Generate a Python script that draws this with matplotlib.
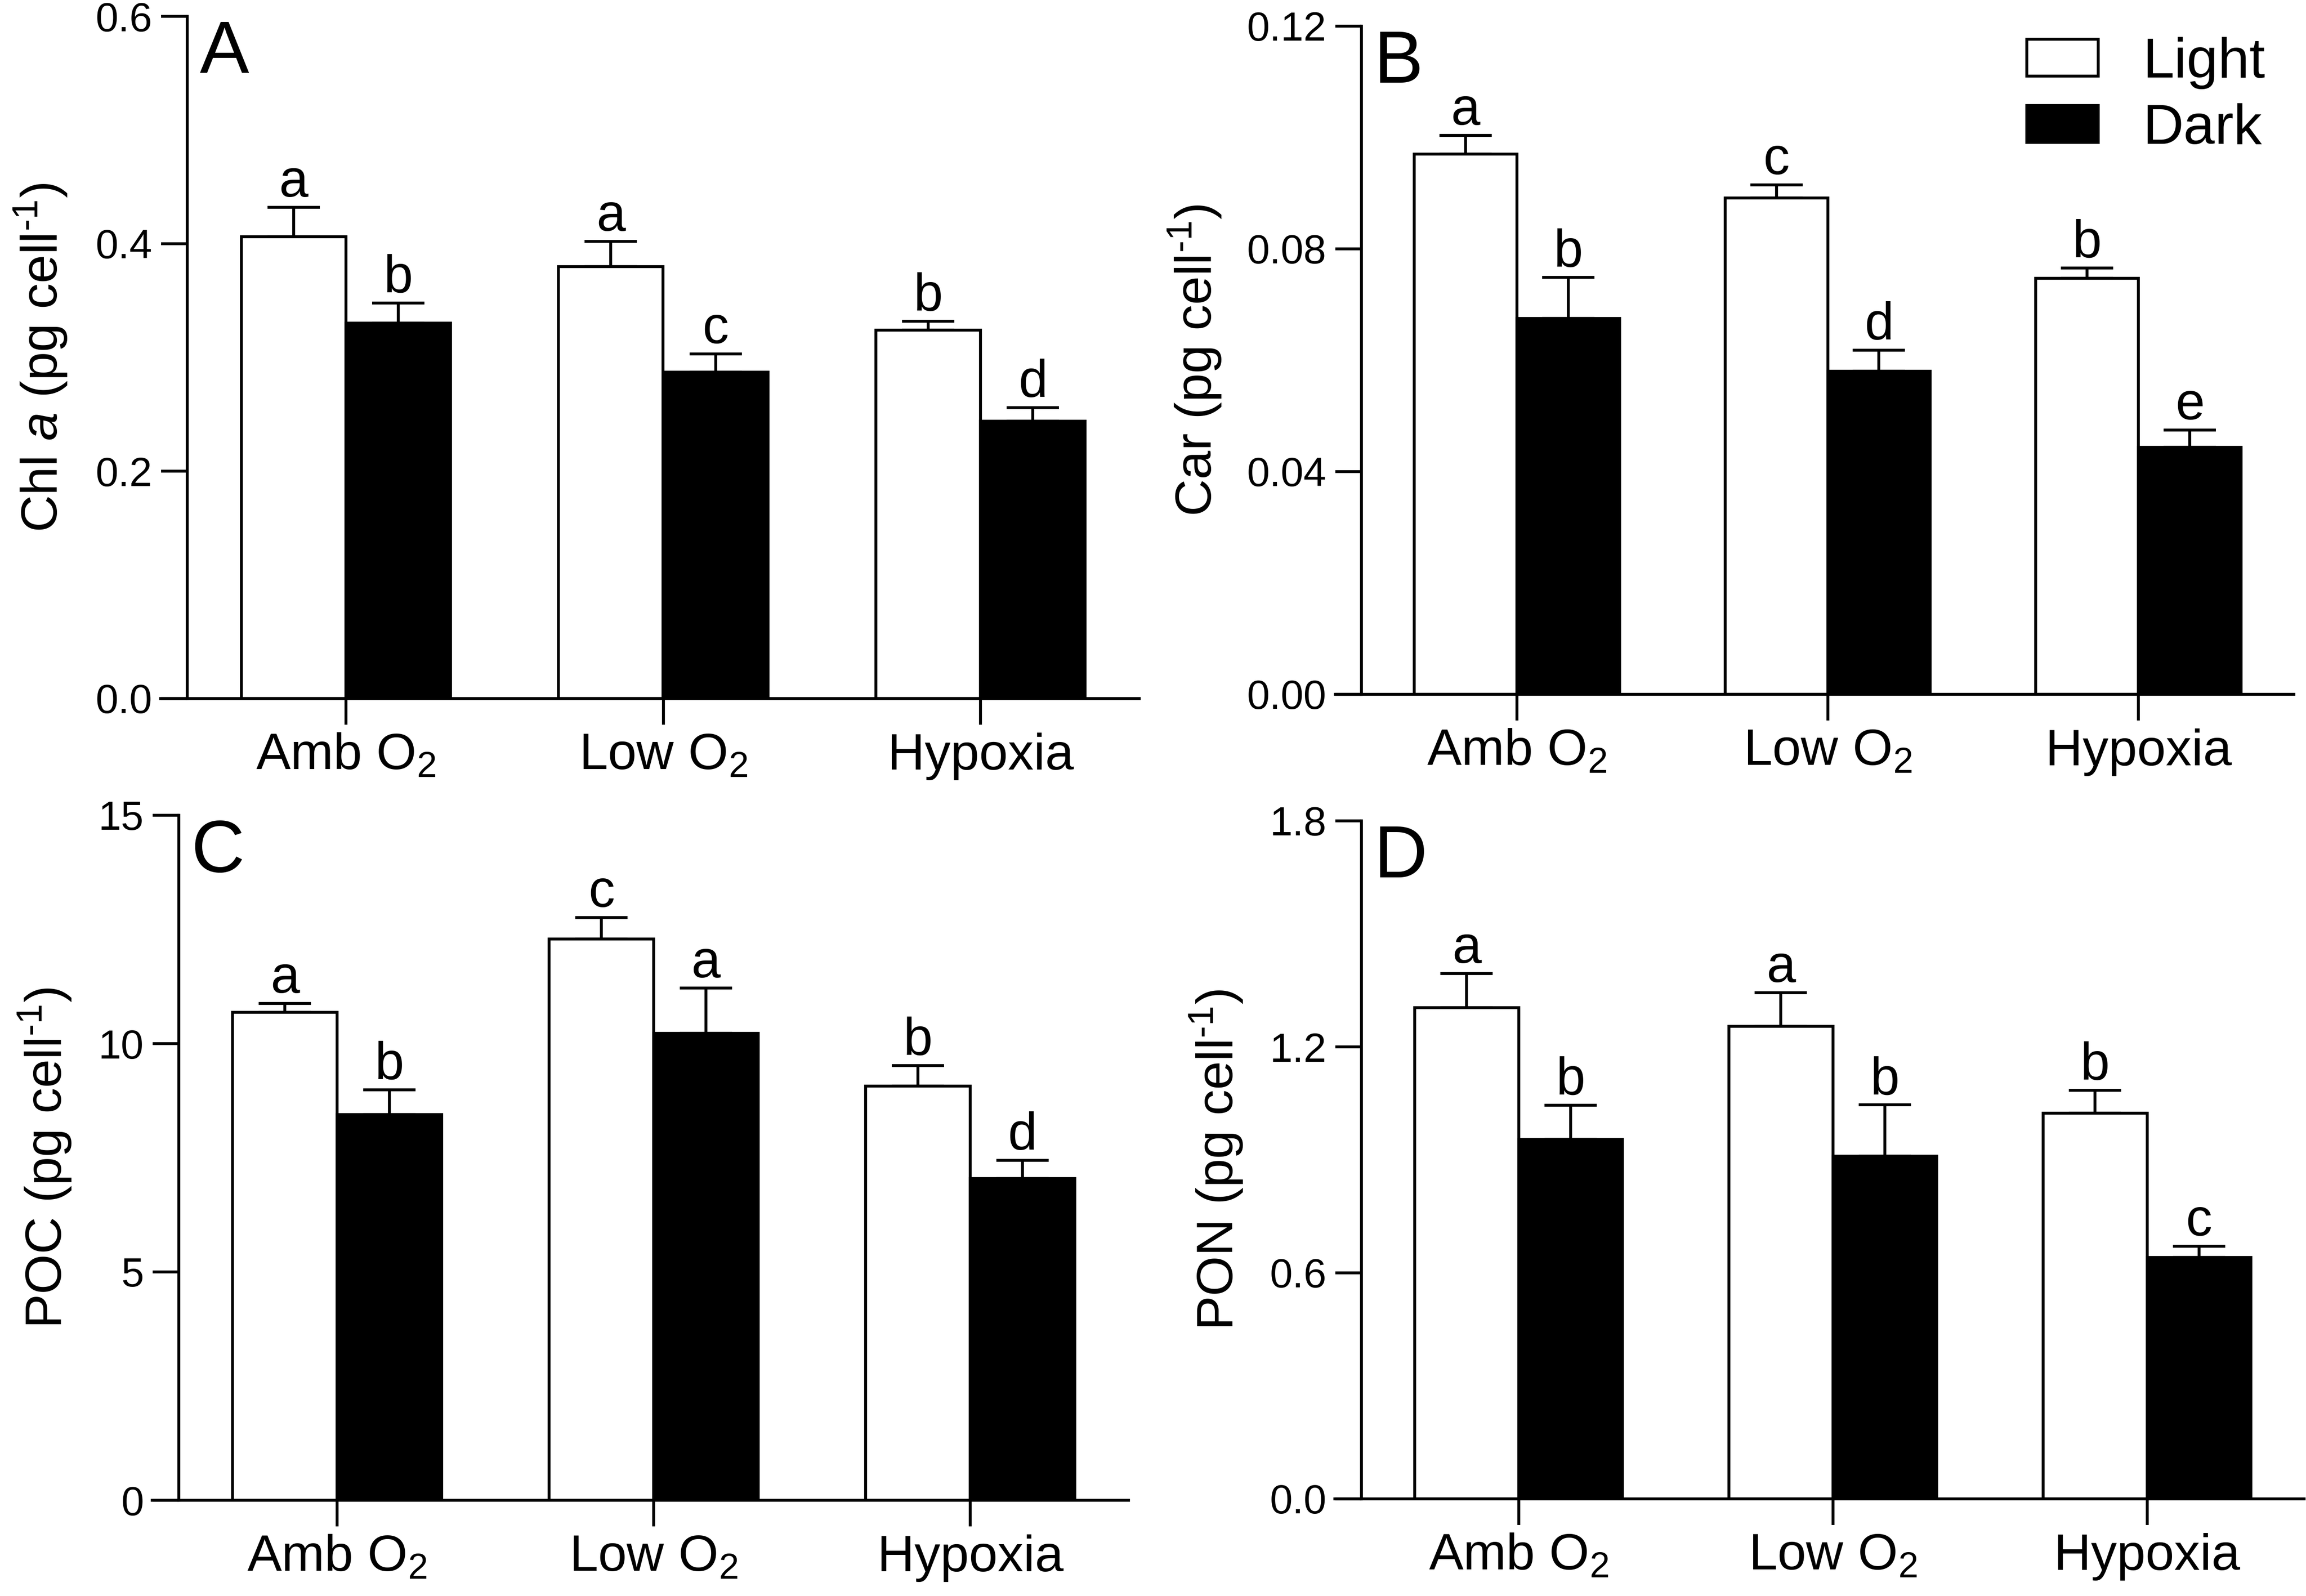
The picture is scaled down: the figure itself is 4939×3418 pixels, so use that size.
import numpy as np
import matplotlib
matplotlib.use('Agg')
import matplotlib.pyplot as plt
from matplotlib.patches import Patch

plt.rcParams['font.family'] = ['Liberation Sans', 'DejaVu Sans']
plt.rcParams['mathtext.fontset'] = 'custom'
plt.rcParams['mathtext.rm'] = 'Liberation Sans'
plt.rcParams['mathtext.it'] = 'Liberation Sans:italic'
plt.rcParams['mathtext.bf'] = 'Liberation Sans:bold'

groups = ['Amb O$_2$', 'Low O$_2$', 'Hypoxia']

# Chl a (pg cell-1)
chl_light = [0.406, 0.380, 0.324]
chl_light_err = [0.026, 0.022, 0.008]
chl_dark = [0.330, 0.287, 0.244]
chl_dark_err = [0.018, 0.016, 0.012]
chl_light_sig = ['a', 'a', 'b']
chl_dark_sig = ['b', 'c', 'd']

# Car (pg cell-1)
car_light = [0.0970, 0.0891, 0.0747]
car_light_err = [0.0034, 0.0024, 0.0019]
car_dark = [0.0675, 0.0580, 0.0444]
car_dark_err = [0.0074, 0.0038, 0.0031]
car_light_sig = ['a', 'c', 'b']
car_dark_sig = ['b', 'd', 'e']

# POC (pg cell-1)
poc_light = [10.68, 12.29, 9.07]
poc_light_err = [0.20, 0.47, 0.45]
poc_dark = [8.45, 10.22, 7.04]
poc_dark_err = [0.54, 1.00, 0.40]
poc_light_sig = ['a', 'c', 'b']
poc_dark_sig = ['b', 'a', 'd']

# PON (pg cell-1)
pon_light = [1.304, 1.255, 1.024]
pon_light_err = [0.091, 0.089, 0.061]
pon_dark = [0.954, 0.910, 0.641]
pon_dark_err = [0.091, 0.136, 0.030]
pon_light_sig = ['a', 'a', 'b']
pon_dark_sig = ['b', 'b', 'c']

W, H = 4939, 3418
DPI = 300
LW = 1.5
BAR_W = 0.33


def add_axes_px(fig, left, right, top, bottom):
    return fig.add_axes([left / W, 1 - bottom / H, (right - left) / W, (bottom - top) / H])


def draw_panel(ax, light, light_err, dark, dark_err, light_sig, dark_sig,
               yticks, yfmt, ylabel, letter, label_x):
    x = np.arange(len(groups))
    xl = x - BAR_W / 2
    xd = x + BAR_W / 2

    ax.bar(xl, light, BAR_W, color='white', edgecolor='black', linewidth=LW, zorder=2)
    ax.bar(xd, dark, BAR_W, color='black', edgecolor='black', linewidth=LW, zorder=2)

    for xs, vals, errs in ((xl, light, light_err), (xd, dark, dark_err)):
        ax.errorbar(xs, vals, yerr=[np.zeros(len(vals)), errs], fmt='none', ecolor='black',
                    elinewidth=LW, capsize=13.4, capthick=LW, zorder=1)

    for xs, vals, errs, sig in ((xl, light, light_err, light_sig), (xd, dark, dark_err, dark_sig)):
        for xi, v, e, s in zip(xs, vals, errs, sig):
            ax.annotate(s, xy=(xi, v + e), xytext=(0, 5.5), textcoords='offset points',
                        ha='center', va='baseline', fontsize=27)

    ax.set_xlim(-0.5, 2.5)
    ax.set_ylim(yticks[0], yticks[-1])
    ax.set_yticks(yticks)
    ax.set_yticklabels([yfmt % t for t in yticks])
    ax.set_xticks(x)
    ax.set_xticklabels(groups)

    for side in ('top', 'right'):
        ax.spines[side].set_visible(False)
    for side in ('left', 'bottom'):
        ax.spines[side].set_linewidth(LW)
    ax.spines['bottom'].set_bounds(-0.5 - 0.084, 2.5)

    ax.tick_params(axis='y', length=13.5, width=LW, pad=4.5, labelsize=21)
    ax.tick_params(axis='x', length=13.5, width=LW, pad=4, labelsize=26.5)

    ax.set_ylabel(ylabel, fontsize=26.5)
    ax.yaxis.set_label_coords(label_x, 0.5)

    ax.annotate(letter, xy=(0, 1), xycoords='axes fraction', xytext=(6.5, -29),
                textcoords='offset points', ha='left', va='baseline', fontsize=38)


def main():
    fig = plt.figure(figsize=(W / DPI, H / DPI), dpi=DPI)

    ax_a = add_axes_px(fig, 401, 2440, 35, 1496)
    ax_b = add_axes_px(fig, 2916, 4913, 56, 1487)
    ax_c = add_axes_px(fig, 383, 2417, 1746, 3213)
    ax_d = add_axes_px(fig, 2916, 4935, 1758, 3210)

    unit = ' (pg cell$^{\\text{-}1}$)'

    draw_panel(ax_a, chl_light, chl_light_err, chl_dark, chl_dark_err, chl_light_sig, chl_dark_sig,
               [0.0, 0.2, 0.4, 0.6], '%.1f', 'Chl $a$' + unit, 'A', -0.124)
    draw_panel(ax_b, car_light, car_light_err, car_dark, car_dark_err, car_light_sig, car_dark_sig,
               [0.0, 0.04, 0.08, 0.12], '%.2f', 'Car' + unit, 'B', -0.148)
    draw_panel(ax_c, poc_light, poc_light_err, poc_dark, poc_dark_err, poc_light_sig, poc_dark_sig,
               [0, 5, 10, 15], '%d', 'POC' + unit, 'C', -0.111)
    draw_panel(ax_d, pon_light, pon_light_err, pon_dark, pon_dark_err, pon_light_sig, pon_dark_sig,
               [0.0, 0.6, 1.2, 1.8], '%.1f', 'PON' + unit, 'D', -0.124)

    handles = [Patch(facecolor='white', edgecolor='black', linewidth=LW, label='Light'),
               Patch(facecolor='black', edgecolor='black', linewidth=LW, label='Dark')]
    fig.legend(handles=handles, loc='upper left', bbox_to_anchor=(4341 / W, 1 - 79 / H),
               frameon=False, fontsize=29, handlelength=1.27, handleheight=0.63,
               handletextpad=0.78, labelspacing=0.25, borderpad=0, borderaxespad=0)

    fig.savefig('out.png', dpi=DPI)


if __name__ == "__main__":
    main()
